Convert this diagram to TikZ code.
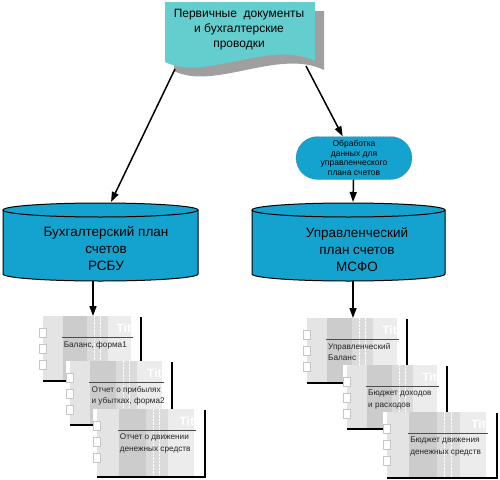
\documentclass[tikz,border=0pt]{standalone}
\usepackage{fontspec}
\setmainfont{Liberation Sans}
\usetikzlibrary{arrows.meta,shapes.misc}

\definecolor{docteal}{RGB}{100,205,205}
\definecolor{dbblue}{RGB}{20,163,207}
\definecolor{sheetA}{RGB}{228,228,228}
\definecolor{sheetB}{RGB}{204,204,204}
\definecolor{sheetC}{RGB}{219,219,219}
\definecolor{sheetD}{RGB}{236,236,236}

\tikzset{
  arr/.style={-{Triangle[length=10pt,width=7pt]}, line width=1.5pt},
  drumtext/.style={align=center, font=\fontsize{13.5}{17}\selectfont},
  sheettext/.style={anchor=north west, align=left, inner sep=0pt,
    text=black!85, font=\fontsize{8.2}{11.5}\selectfont},
}

% sheet: name, x, y, width, height, text
\newcommand{\docsheet}[6]{%
  \draw[line width=1.3pt] (#2,#3+#5) -- (#2+#4,#3+#5) -- (#2+#4,#3+1);
  \fill[white] (#2-4,#3) rectangle (#2+#4-1,#3+#5-0.7);
  \fill[sheetA] (#2,#3) rectangle (#2+0.2*#4,#3+#5-1);
  \fill[sheetB] (#2+0.2*#4,#3) rectangle (#2+0.45*#4,#3+#5-1);
  \fill[sheetC] (#2+0.45*#4,#3) rectangle (#2+0.66*#4,#3+#5-1);
  \fill[sheetD] (#2+0.66*#4,#3) rectangle (#2+0.9*#4,#3+#5-1);
  \draw[white, densely dotted] (#2+0.52*#4,#3) -- (#2+0.52*#4,#3+#5-1);
  \draw[white, densely dotted] (#2+0.58*#4,#3) -- (#2+0.58*#4,#3+#5-1);
  \foreach \ty in {12,28,44}
    \filldraw[fill=white, draw=gray!45] (#2-4,#3+\ty) rectangle (#2+3,#3+\ty+9);
  \node[anchor=east, inner sep=0pt, text=white, font=\fontsize{12}{12}\bfseries]
    at (#2+0.9*#4,#3+12) {Tit};
  \draw[black!70, line width=0.9pt] (#2+0.19*#4,#3+21) -- (#2+0.92*#4,#3+21);
  \node (#1) [sheettext] at (#2+0.21*#4,#3+25) {#6};
  \coordinate (#1-top) at (#2+#4/2,#3);
}

% drum: centre x, half width, top y, bottom y
\newcommand{\drum}[4]{%
  \filldraw[fill=dbblue, line width=1pt] (#1-#2,#3) -- (#1-#2,#4)
    arc[start angle=180, end angle=0, x radius=#2, y radius=7] -- (#1+#2,#3)
    arc[start angle=0, end angle=-180, x radius=#2, y radius=7] -- cycle;
  \draw[line width=1pt] (#1-#2,#3) arc[start angle=180, end angle=0, x radius=#2, y radius=7];
}

\begin{document}
\begin{tikzpicture}[x=1pt,y=-1pt]
    \useasboundingbox (0,0) rectangle (500,479);
    % source documents
    \fill[gray!75] (174,11) -- (324,11) -- (324,70) .. controls (279,48) and (214,91) .. (174,71) -- cycle;
    \fill[docteal] (165,2) -- (315,2) -- (315,61) .. controls (270,39) and (205,82) .. (165,62) -- cycle;
    \node (src) [align=center, font=\fontsize{12}{15}\selectfont] at (239,30) {Первичные\ \ документы\\и бухгалтерские\\проводки};
    \coordinate (srcL) at (175,69);
    \coordinate (srcR) at (306,66);

    % processing
    \node (proc) [rounded rectangle, fill=dbblue, draw=black!70, densely dotted,
      minimum width=116, minimum height=43, inner sep=0pt, align=center,
      font=\fontsize{8.5}{9.7}\selectfont] at (354,158)
      {Обработка\\данных для\\управленческого\\плана счетов};

    % charts of accounts
    \drum{100.5}{97.5}{210}{274}
    \drum{348.5}{96.5}{210}{274}
    \node (acctL) [drumtext] at (106,249) {Бухгалтерский план\\счетов\\РСБУ};
    \node (acctR) [drumtext] at (357,250) {Управленческий\\план счетов\\МСФО};
    \coordinate (acctLtop) at (111,202);
    \coordinate (acctRtop) at (353,202);
    \coordinate (acctLbot) at (93,281);
    \coordinate (acctRbot) at (353,281);

    % reports
    \docsheet{bal}{43}{316}{98}{65}{Баланс, форма1}
    \docsheet{pnl}{70}{361}{102}{64}{Отчет о прибылях\\и убытках, форма2}
    \docsheet{cash}{97}{409}{108}{68}{Отчет о движении\\денежных средств}
    \docsheet{mbal}{307}{318}{100}{65}{Управленческий\\Баланс}
    \docsheet{budget}{347}{365}{100}{64}{Бюджет доходов\\и расходов}
    \docsheet{mcash}{387}{412}{110}{66}{Бюджет движения\\денежных средств}

    \draw[arr] (srcL) -- (acctLtop);
    \draw[arr] (srcR) -- (proc);
    \draw[arr] (proc) -- (acctRtop);
    \draw[arr] (acctLbot) -- (acctLbot |- bal-top);
    \draw[arr] (acctRbot) -- (acctRbot |- mbal-top);
\end{tikzpicture}
\end{document}
